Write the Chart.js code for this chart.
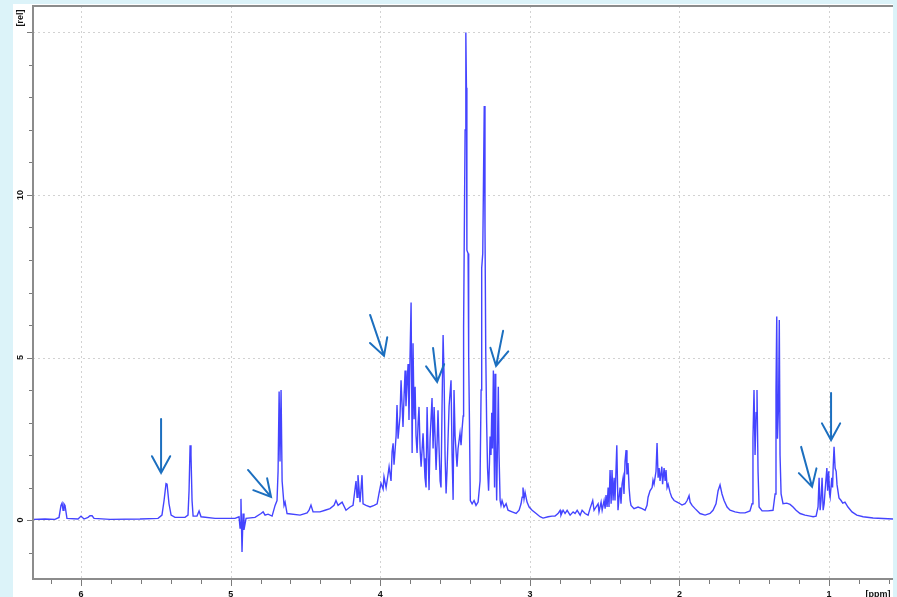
<!DOCTYPE html>
<html>
<head>
<meta charset="utf-8">
<script src="https://cdn.jsdelivr.net/npm/chart.js@4.4.1/dist/chart.umd.min.js"></script>
<style>
  html, body { margin: 0; padding: 0; width: 897px; height: 597px; overflow: hidden; background: #dcf3f9; }
  #panel { position: absolute; left: 13px; top: 4px; width: 880px; height: 593px; background: #ffffff; }
  #spectrum { display: block; }
</style>
</head>
<body>
<div id="panel"><canvas id="spectrum" width="880" height="593"></canvas></div>
<script>
// chemical shift [ppm] from left to right
const shift = [
  6.321, 6.241, 6.174, 6.147, 6.134, 6.127, 6.120, 6.114, 6.107, 6.094,
  6.020, 6.000, 5.980, 5.953, 5.940, 5.926, 5.913, 5.806, 5.606, 5.485,
  5.459, 5.445, 5.432, 5.425, 5.412, 5.398, 5.372, 5.305, 5.285, 5.278,
  5.271, 5.265, 5.258, 5.251, 5.225, 5.211, 5.198, 5.104, 4.971, 4.944,
  4.937, 4.931, 4.924, 4.917, 4.911, 4.897, 4.837, 4.797, 4.783, 4.770,
  4.750, 4.723, 4.703, 4.690, 4.683, 4.676, 4.670, 4.663, 4.656, 4.643,
  4.636, 4.623, 4.536, 4.489, 4.476, 4.463, 4.449, 4.403, 4.369, 4.336,
  4.309, 4.296, 4.282, 4.255, 4.229, 4.202, 4.182, 4.162, 4.155, 4.149,
  4.135, 4.122, 4.115, 4.095, 4.068, 4.041, 4.021, 4.008, 3.995, 3.981,
  3.975, 3.961, 3.948, 3.941, 3.928, 3.921, 3.914, 3.908, 3.894, 3.888,
  3.881, 3.868, 3.861, 3.848, 3.841, 3.834, 3.828, 3.821, 3.814, 3.808,
  3.801, 3.794, 3.787, 3.781, 3.774, 3.767, 3.761, 3.754, 3.747, 3.741,
  3.734, 3.727, 3.714, 3.707, 3.701, 3.694, 3.687, 3.680, 3.674, 3.667,
  3.654, 3.647, 3.640, 3.634, 3.627, 3.620, 3.614, 3.607, 3.600, 3.594,
  3.587, 3.580, 3.573, 3.567, 3.560, 3.553, 3.547, 3.540, 3.527, 3.520,
  3.513, 3.507, 3.500, 3.487, 3.480, 3.467, 3.460, 3.453, 3.446, 3.443,
  3.437, 3.433, 3.428, 3.424, 3.421, 3.413, 3.409, 3.404, 3.398, 3.386,
  3.373, 3.360, 3.346, 3.333, 3.326, 3.322, 3.315, 3.310, 3.305, 3.300,
  3.295, 3.289, 3.283, 3.276, 3.270, 3.266, 3.260, 3.255, 3.250, 3.244,
  3.239, 3.236, 3.233, 3.228, 3.222, 3.216, 3.211, 3.206, 3.199, 3.193,
  3.186, 3.173, 3.159, 3.146, 3.119, 3.092, 3.072, 3.059, 3.052, 3.046,
  3.039, 3.032, 3.019, 3.005, 2.985, 2.958, 2.932, 2.912, 2.878, 2.852,
  2.832, 2.812, 2.798, 2.792, 2.778, 2.765, 2.751, 2.731, 2.711, 2.698,
  2.684, 2.664, 2.651, 2.631, 2.611, 2.598, 2.580, 2.571, 2.558, 2.544,
  2.538, 2.524, 2.517, 2.504, 2.497, 2.491, 2.484, 2.477, 2.471, 2.464,
  2.457, 2.451, 2.444, 2.437, 2.431, 2.419, 2.411, 2.404, 2.397, 2.391,
  2.384, 2.377, 2.371, 2.364, 2.357, 2.351, 2.344, 2.337, 2.330, 2.324,
  2.304, 2.277, 2.250, 2.230, 2.217, 2.210, 2.197, 2.183, 2.177, 2.170,
  2.157, 2.150, 2.143, 2.136, 2.130, 2.118, 2.113, 2.103, 2.096, 2.090,
  2.083, 2.076, 2.063, 2.052, 2.036, 2.016, 1.996, 1.983, 1.963, 1.949,
  1.936, 1.929, 1.916, 1.896, 1.863, 1.829, 1.796, 1.776, 1.756, 1.742,
  1.729, 1.716, 1.702, 1.682, 1.662, 1.629, 1.595, 1.562, 1.529, 1.515,
  1.509, 1.502, 1.495, 1.488, 1.482, 1.475, 1.468, 1.448, 1.408, 1.375,
  1.361, 1.355, 1.350, 1.345, 1.338, 1.333, 1.328, 1.321, 1.308, 1.283,
  1.261, 1.241, 1.221, 1.194, 1.161, 1.127, 1.107, 1.087, 1.074, 1.067,
  1.060, 1.054, 1.047, 1.040, 1.033, 1.027, 1.015, 1.010, 1.003, 0.997,
  0.993, 0.982, 0.977, 0.973, 0.967, 0.960, 0.953, 0.947, 0.934, 0.920,
  0.909, 0.894, 0.874, 0.847, 0.815, 0.773, 0.706, 0.573
];

// intensity [rel], same order as shift
const intensity = [
  0.02, 0.03, 0.02, 0.08, 0.45, 0.52, 0.30, 0.50, 0.45, 0.05,
  0.03, 0.12, 0.03, 0.08, 0.13, 0.13, 0.05, 0.02, 0.03, 0.05,
  0.15, 0.60, 1.12, 1.10, 0.50, 0.15, 0.08, 0.08, 0.15, 0.90,
  2.30, 2.00, 0.60, 0.12, 0.12, 0.28, 0.10, 0.05, 0.05, 0.10,
  -0.25, 0.65, -0.98, 0.20, -0.30, 0.05, 0.08, 0.20, 0.25, 0.15,
  0.18, 0.12, 0.45, 0.60, 1.50, 3.95, 1.80, 4.00, 1.20, 0.45,
  0.55, 0.20, 0.15, 0.22, 0.30, 0.46, 0.25, 0.25, 0.30, 0.35,
  0.45, 0.60, 0.45, 0.55, 0.30, 0.40, 0.45, 1.20, 0.70, 1.38,
  0.55, 1.38, 0.50, 0.45, 0.40, 0.45, 0.50, 0.83, 1.13, 0.95,
  1.33, 1.00, 1.40, 1.64, 1.20, 2.10, 2.36, 1.70, 2.60, 3.54,
  2.50, 3.20, 4.30, 2.86, 3.80, 4.60, 3.50, 4.20, 4.80, 3.08,
  5.00, 6.69, 2.06, 5.44, 3.10, 4.10, 2.60, 2.06, 3.00, 3.48,
  2.20, 1.64, 2.67, 1.90, 1.30, 1.00, 3.48, 2.00, 0.92, 2.50,
  3.75, 2.20, 3.48, 2.60, 1.54, 2.40, 3.38, 2.20, 1.20, 1.00,
  3.50, 5.69, 4.30, 2.00, 0.82, 1.60, 2.50, 3.50, 4.30, 2.00,
  0.62, 4.00, 2.60, 1.64, 2.20, 2.67, 2.30, 2.80, 3.20, 5.90,
  9.60, 12.0, 15.0, 13.3, 8.30, 8.20, 5.00, 3.07, 0.60, 0.50,
  0.60, 0.45, 0.55, 1.20, 4.00, 7.75, 8.20, 10.5, 12.74, 9.00,
  5.20, 3.00, 1.60, 0.90, 1.80, 2.57, 2.00, 3.30, 2.20, 4.60,
  2.00, 1.00, 4.50, 2.50, 0.60, 2.50, 4.10, 2.00, 0.60, 0.45,
  0.60, 0.40, 0.50, 0.30, 0.25, 0.20, 0.30, 0.50, 0.70, 1.00,
  0.65, 0.85, 0.55, 0.40, 0.30, 0.20, 0.10, 0.06, 0.10, 0.12,
  0.12, 0.20, 0.30, 0.15, 0.30, 0.20, 0.30, 0.15, 0.25, 0.20,
  0.30, 0.15, 0.30, 0.20, 0.15, 0.35, 0.60, 0.30, 0.40, 0.50,
  0.25, 0.55, 0.30, 0.60, 0.35, 0.77, 0.40, 1.00, 0.40, 1.54,
  0.50, 1.54, 0.60, 1.30, 0.60, 2.30, 0.30, 0.70, 1.00, 0.50,
  1.10, 1.30, 0.80, 1.80, 2.15, 1.40, 1.75, 1.00, 0.60, 0.45,
  0.35, 0.40, 0.35, 0.30, 0.45, 0.70, 0.90, 1.00, 1.23, 1.10,
  1.50, 2.37, 1.30, 1.60, 1.20, 1.64, 1.10, 1.60, 1.20, 1.54,
  1.00, 1.10, 0.85, 0.70, 0.60, 0.55, 0.50, 0.46, 0.50, 0.60,
  0.75, 0.55, 0.45, 0.35, 0.20, 0.15, 0.20, 0.30, 0.50, 0.90,
  1.08, 0.80, 0.60, 0.40, 0.30, 0.25, 0.22, 0.22, 0.28, 0.50,
  2.50, 4.00, 2.00, 3.30, 4.00, 1.50, 0.40, 0.28, 0.28, 0.30,
  0.80, 4.00, 6.26, 2.50, 3.50, 6.15, 2.00, 0.80, 0.50, 0.52,
  0.48, 0.40, 0.30, 0.20, 0.15, 0.12, 0.10, 0.12, 0.40, 1.30,
  0.30, 0.60, 1.30, 0.30, 0.50, 0.90, 1.60, 0.90, 1.50, 0.80,
  0.70, 1.30, 1.00, 1.60, 2.25, 1.60, 1.50, 1.08, 0.68, 0.60,
  0.52, 0.55, 0.40, 0.25, 0.15, 0.10, 0.06, 0.03
];

// axis ticks
const ppmTicks = [6, 5, 4, 3, 2, 1];
const ppmTickLabels = ['6', '5', '4', '3', '2', '1'];
const relTicks = [0, 5, 10, 15];
const relTickLabels = ['0', '5', '10', ''];

// annotation arrows: [ppm, rel] of tail and of tip
const arrowTails = [[5.465, 3.11], [4.884, 1.54], [4.068, 6.31], [3.647, 5.29], [3.179, 5.82], [1.187, 2.25], [0.987, 3.91]];
const arrowTips  = [[5.465, 1.45], [4.730, 0.71], [3.975, 5.05], [3.620, 4.25], [3.226, 4.74], [1.114, 1.02], [0.987, 2.46]];

const labelFont = 'bold 9px "Liberation Sans", Arial, sans-serif';

// TopSpin style frame: dotted grid, grey axes, minor ticks, rotated y labels
const topspinFrame = {
  id: 'topspinFrame',
  beforeDatasetsDraw(chart) {
    const { ctx, chartArea: a, scales: { x, y } } = chart;
    ctx.save();
    ctx.strokeStyle = '#d2d2d2';
    ctx.lineWidth = 1;
    ctx.setLineDash([2, 3]);
    ppmTicks.forEach(v => {
      const px = Math.round(x.getPixelForValue(v)) + 0.5;
      ctx.beginPath(); ctx.moveTo(px, a.top); ctx.lineTo(px, a.bottom); ctx.stroke();
    });
    relTicks.forEach(v => {
      const py = Math.round(y.getPixelForValue(v)) + 0.5;
      ctx.beginPath(); ctx.moveTo(a.left, py); ctx.lineTo(a.right, py); ctx.stroke();
    });
    ctx.restore();
  },
  afterDatasetsDraw(chart) {
    const { ctx, scales: { x, y } } = chart;
    ctx.save();
    ctx.strokeStyle = '#1c6fbf';
    ctx.lineWidth = 2;
    ctx.lineCap = 'round';
    arrowTails.forEach((t, i) => {
      const x0 = x.getPixelForValue(t[0]), y0 = y.getPixelForValue(t[1]);
      const x1 = x.getPixelForValue(arrowTips[i][0]), y1 = y.getPixelForValue(arrowTips[i][1]);
      const ang = Math.atan2(y1 - y0, x1 - x0);
      const len = 19, spread = 0.5;
      ctx.beginPath();
      ctx.moveTo(x0, y0); ctx.lineTo(x1, y1);
      ctx.moveTo(x1 - len * Math.cos(ang - spread), y1 - len * Math.sin(ang - spread));
      ctx.lineTo(x1, y1);
      ctx.lineTo(x1 - len * Math.cos(ang + spread), y1 - len * Math.sin(ang + spread));
      ctx.stroke();
    });
    ctx.restore();
  },
  afterDraw(chart) {
    const { ctx, chartArea: a, scales: { x, y } } = chart;
    ctx.save();
    // axis lines
    ctx.strokeStyle = '#8c8c8c';
    ctx.lineWidth = 2;
    ctx.beginPath();
    ctx.moveTo(a.right, a.top); ctx.lineTo(a.left, a.top);
    ctx.lineTo(a.left, a.bottom); ctx.lineTo(a.right, a.bottom);
    ctx.stroke();

    // ticks
    ctx.strokeStyle = '#7a7a7a';
    ctx.lineWidth = 1;
    ctx.beginPath();
    for (let k = -1; k <= 15; k++) {
      const py = Math.round(y.getPixelForValue(k)) + 0.5;
      const len = k % 5 === 0 ? 5 : 3;
      ctx.moveTo(a.left - 1, py); ctx.lineTo(a.left - 1 - len, py);
    }
    for (let k = 3; k <= 31; k++) {
      const v = k / 5;
      const px = Math.round(x.getPixelForValue(v)) + 0.5;
      if (px < a.left || px > a.right) continue;
      const len = k % 5 === 0 ? 6 : 4;
      ctx.moveTo(px, a.bottom + 1); ctx.lineTo(px, a.bottom + 1 + len);
    }
    ctx.stroke();

    // labels
    ctx.fillStyle = '#111111';
    ctx.font = labelFont;
    ctx.textAlign = 'center';
    ctx.textBaseline = 'top';
    ppmTicks.forEach((v, i) => {
      ctx.fillText(ppmTickLabels[i], x.getPixelForValue(v), a.bottom + 11);
    });
    ctx.fillText('[ppm]', a.right - 15, a.bottom + 11);

    ctx.textBaseline = 'middle';
    const drawUp = (txt, px, py) => {
      ctx.save();
      ctx.translate(px, py);
      ctx.rotate(-Math.PI / 2);
      ctx.fillText(txt, 0, 0);
      ctx.restore();
    };
    relTicks.forEach((v, i) => {
      if (relTickLabels[i]) drawUp(relTickLabels[i], a.left - 12.5, y.getPixelForValue(v));
    });
    drawUp('[rel]', a.left - 12.5, a.top + 12);
    ctx.restore();
  }
};

new Chart(document.getElementById('spectrum'), {
  type: 'line',
  data: {
    datasets: [{
      label: '1H',
      data: shift.map((s, i) => ({ x: s, y: intensity[i] })),
      borderColor: 'rgba(35, 35, 255, 0.85)',
      borderWidth: 1.4,
      pointRadius: 0,
      tension: 0,
      fill: false
    }]
  },
  options: {
    responsive: false,
    animation: false,
    events: [],
    layout: { padding: { left: 20, top: 2, right: 0, bottom: 18 } },
    plugins: { legend: { display: false }, tooltip: { enabled: false } },
    scales: {
      x: { type: 'linear', reverse: true, min: 0.573, max: 6.321, display: false },
      y: { type: 'linear', min: -1.815, max: 15.815, display: false }
    }
  },
  plugins: [topspinFrame]
});
</script>
</body>
</html>
